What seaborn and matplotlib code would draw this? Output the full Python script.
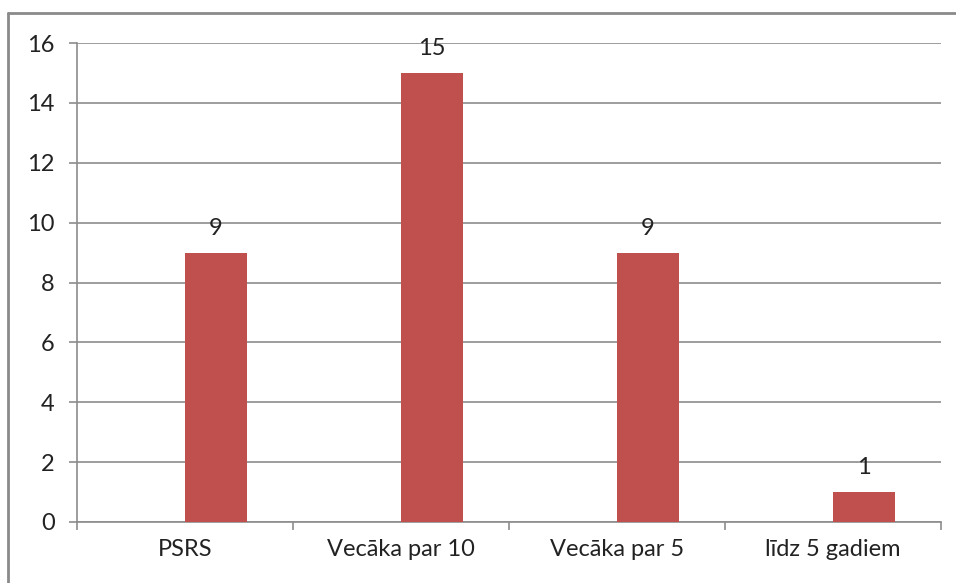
import matplotlib
matplotlib.use("Agg")
import matplotlib.pyplot as plt
import seaborn as sns
import pandas as pd
from matplotlib.lines import Line2D
from matplotlib.ticker import FixedLocator, MultipleLocator

categories = ["PSRS", "Vecāka par 10", "Vecāka par 5", "līdz 5 gadiem"]
values = [9, 15, 9, 1]
series_name = "Skaits"
empty_series = "_tukss"          # empty placeholder series (Excel clustered layout)
empty_values = [0, 0, 0, 0]
y_ticks = [0, 2, 4, 6, 8, 10, 12, 14, 16]

df = pd.concat([
    pd.DataFrame({"kategorija": categories, "vertiba": empty_values, "serija": empty_series}),
    pd.DataFrame({"kategorija": categories, "vertiba": values, "serija": series_name}),
], ignore_index=True)

sns.set_theme(style="white")
plt.rcParams["font.family"] = ["Lato", "DejaVu Sans"]

fig = plt.figure(figsize=(9.56, 5.83), dpi=100)
ax = fig.add_axes([77 / 956, 1 - 522 / 583, (941 - 77) / 956, (522 - 43) / 583])

bar_color = "#C0504D"
grid_color = "#8C8C8C"
text_color = "#222222"
fs = 17

sns.barplot(data=df, x="kategorija", y="vertiba", hue="serija",
            hue_order=[empty_series, series_name], order=categories,
            palette={empty_series: "white", series_name: bar_color},
            width=0.57, saturation=1, legend=False, ax=ax, zorder=3)

for p in ax.patches:
    p.set_edgecolor("none")

c = ax.containers[-1]
ax.bar_label(c, labels=[f"{v:g}" for v in c.datavalues], padding=10,
             fontsize=fs, color=text_color)

ax.set_ylim(0, 16)
ax.set_xlim(-0.5, len(categories) - 0.5)
ax.yaxis.set_major_locator(FixedLocator(y_ticks))
ax.set_yticklabels([str(t) for t in y_ticks])
ax.yaxis.grid(True, color=grid_color, linewidth=1.2, zorder=0)
ax.set_axisbelow(True)
ax.set_xlabel("")
ax.set_ylabel("")

for s in ["top", "right"]:
    ax.spines[s].set_visible(False)
for s in ["left", "bottom"]:
    ax.spines[s].set_color(grid_color)
    ax.spines[s].set_linewidth(1.2)

ax.tick_params(axis="y", which="major", length=6, width=1.2, color=grid_color,
               labelsize=fs, labelcolor=text_color, pad=10, left=True)
ax.tick_params(axis="x", which="major", length=0, labelsize=fs,
               labelcolor=text_color, pad=12)
ax.xaxis.set_minor_locator(MultipleLocator(1, offset=0.5))
ax.tick_params(axis="x", which="minor", length=6, width=1.2, color=grid_color,
               bottom=True, direction="out")

# outer chart frame (left and top edges visible in the reference)
fig.add_artist(Line2D([8 / 956, 8 / 956], [0, 1 - 13 / 583], color="#8A8A8A",
                      linewidth=2, transform=fig.transFigure))
fig.add_artist(Line2D([8 / 956, 1], [1 - 13 / 583, 1 - 13 / 583], color="#8A8A8A",
                      linewidth=2, transform=fig.transFigure))

fig.savefig("out.png", dpi=100)
